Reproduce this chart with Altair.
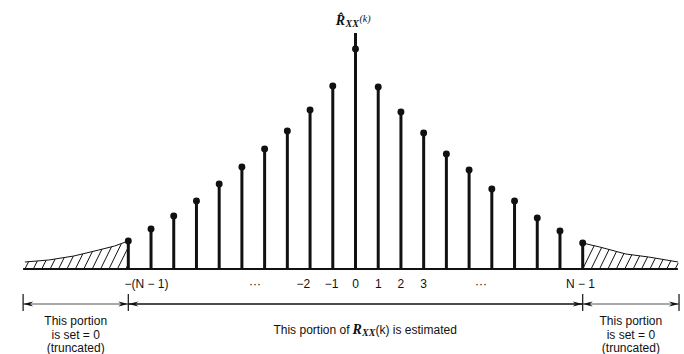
import altair as alt
import numpy as np
import pandas as pd

# ---------------- data ----------------
lags = list(range(-10, 11))
r_hat = [28, 40, 53, 68, 85, 102, 120, 138, 159, 183, 220,
         182, 157, 136, 115, 99, 80, 68, 51, 38, 26]
peak_axis_top = 236

left_tail_k = [-14.55, -13.5, -12.4, -11.3, -10.6, -10.0]
left_tail_v = [7, 9, 13, 19, 23, 28]
right_tail_k = [10.0, 10.75, 11.9, 12.9, 14.2]
right_tail_v = [26, 22, 15, 12, 7]

tick_pos = [-9.2, -4.42, -2.3, -1.05, 0, 1.0, 2.0, 3.0, 5.52, 9.9]
tick_text = ["−(N − 1)", "···", "−2", "−1", "0", "1", "2", "3", "···", "N − 1"]

segment_bounds = [-14.63, -10.0, 10.0, 14.24]
side_note = ["This portion", "is set = 0", "(truncated)"]

# ---------------- layout ----------------
PX_PER_LAG = 22.72
ZERO_PX = 355.5
W, H = 684, 354
x_dom = [-ZERO_PX / PX_PER_LAG, (W - ZERO_PX) / PX_PER_LAG]
y_dom = [-85, 269]
xs = alt.Scale(domain=x_dom, nice=False, zero=False)
ys = alt.Scale(domain=y_dom, nice=False, zero=False)

BLACK = "#111111"
SANS = "Liberation Sans"
SERIF = "Liberation Serif"

stems = pd.DataFrame({"k": lags, "v": r_hat, "z": 0})

def X(f="k"):
    return alt.X(f"{f}:Q", scale=xs, axis=None)

def Y(f="v"):
    return alt.Y(f"{f}:Q", scale=ys, axis=None)

base = alt.Chart(stems)

stem_rules = base.mark_rule(color=BLACK, strokeWidth=3).encode(
    x=X(), y=Y("z"), y2="v:Q")
dots = base.mark_circle(color=BLACK, opacity=1, size=48).encode(x=X(), y=Y())

peak_axis = alt.Chart(pd.DataFrame({"k": [0], "z": [0], "t": [peak_axis_top]})).mark_rule(
    color=BLACK, strokeWidth=3).encode(x=X(), y=Y("z"), y2="t:Q")

baseline = alt.Chart(pd.DataFrame({"k": [segment_bounds[0], segment_bounds[-1] - 0.05], "z": [0, 0]})).mark_line(
    color=BLACK, strokeWidth=2).encode(x=X(), y=Y("z"))

# envelopes of truncated tails
env_df = pd.concat([
    pd.DataFrame({"k": left_tail_k, "v": left_tail_v, "side": "L"}),
    pd.DataFrame({"k": right_tail_k, "v": right_tail_v, "side": "R"}),
])
envelope = alt.Chart(env_df).mark_line(color=BLACK, strokeWidth=1).encode(
    x=X(), y=Y(), detail="side:N")

# hatch lines (decoration derived from envelopes)
slope = 2.0 * PX_PER_LAG
hatch_rows = []
for ks, vs, lo, hi in [(left_tail_k, left_tail_v, left_tail_k[0], left_tail_k[-1]),
                       (right_tail_k, right_tail_v, right_tail_k[0], right_tail_k[-1])]:
    for x0 in np.arange(lo, hi - 0.05, 0.37):
        x1 = x0 + np.interp(x0, ks, vs) / slope
        x1 = x0 + np.interp(min(x1, hi), ks, vs) / slope
        if x1 > hi:
            x1 = hi
            top = (x1 - x0) * slope
        else:
            top = np.interp(x1, ks, vs)
        hatch_rows.append({"k": x0, "k2": x1, "z": 0, "t": top})
hatch = alt.Chart(pd.DataFrame(hatch_rows)).mark_rule(color=BLACK, strokeWidth=1).encode(
    x=X(), x2="k2:Q", y=Y("z"), y2="t:Q")

# tick labels
ticks = alt.Chart(pd.DataFrame({"k": tick_pos, "lab": tick_text, "v": -15})).mark_text(
    font=SANS, fontSize=12, color=BLACK, baseline="middle").encode(x=X(), y=Y(), text="lab:N")

# dimension arrows
ARROW_V = -35
seg_df = pd.DataFrame({
    "k": segment_bounds[:-1], "k2": segment_bounds[1:], "v": ARROW_V,
    "w": [1.0, 1.6, 1.0], "c": ["#555555", BLACK, "#555555"]})
segments = alt.Chart(seg_df).mark_rule().encode(
    x=X(), x2="k2:Q", y=Y(), strokeWidth=alt.StrokeWidth("w:Q", scale=None),
    color=alt.Color("c:N", scale=None))
bars = alt.Chart(pd.DataFrame({"k": segment_bounds, "a": ARROW_V + 10, "b": ARROW_V - 7})).mark_rule(
    color=BLACK, strokeWidth=1.2).encode(x=X(), y=Y("a"), y2="b:Q")
tips_left = alt.Chart(pd.DataFrame({"k": segment_bounds[:-1], "v": ARROW_V})).mark_point(
    shape="M0,0L1,-0.26L0.7,0L1,0.26Z", filled=True, size=400, color=BLACK, opacity=1).encode(
    x=X(), y=Y())
tips_right = alt.Chart(pd.DataFrame({"k": segment_bounds[1:], "v": ARROW_V})).mark_point(
    shape="M0,0L-1,-0.26L-0.7,0L-1,0.26Z", filled=True, size=400, color=BLACK, opacity=1).encode(
    x=X(), y=Y())

# side notes
note_rows = []
for lo, hi in [(segment_bounds[0], segment_bounds[1]), (segment_bounds[2], segment_bounds[3])]:
    for i, line in enumerate(side_note):
        note_rows.append({"k": (lo + hi) / 2, "v": -52 - 13.5 * i, "t": line})
notes = alt.Chart(pd.DataFrame(note_rows)).mark_text(
    font=SANS, fontSize=12, color=BLACK, baseline="middle").encode(x=X(), y=Y(), text="t:N")

# middle note with subscripted R_XX(k)
mid = (segment_bounds[1] + segment_bounds[2]) / 2
def txt(t, v, dx, size, align="left", font=SANS, style="normal", weight="normal", baseline="middle"):
    return alt.Chart(pd.DataFrame({"k": [mid], "v": [v], "t": [t]})).mark_text(
        font=font, fontSize=size, fontStyle=style, fontWeight=weight, align=align,
        baseline=baseline, dx=dx, color=BLACK).encode(x=X(), y=Y(), text="t:N")

mid_note = [
    txt("This portion of", -61, -6, 12, align="right"),
    txt("R", -61, -3, 14, font=SERIF, style="italic", weight="bold"),
    txt("XX", -64, 6.5, 10, font=SERIF, style="italic", weight="bold"),
    txt("(k) is estimated", -61, 20, 12),
]

# title R^_XX(k) on top of the peak axis
title = [
    txt("R\u0302", 248, -15, 14, align="center", font=SERIF, style="italic", weight="bold"),
    txt("XX", 245, -10, 10, font=SERIF, style="italic", weight="bold"),
    txt("(k)", 250, 4, 10, font=SERIF, style="italic"),
]

chart = alt.layer(
    hatch, envelope, baseline, stem_rules, peak_axis, dots, ticks,
    segments, bars, tips_left, tips_right, notes, *mid_note, *title
).properties(
    width=W, height=H, autosize=alt.AutoSizeParams(type="none"), padding=0,
    background="white"
).configure_view(stroke=None)

chart.save("out.html", embed_options={"renderer": "svg", "actions": False})
